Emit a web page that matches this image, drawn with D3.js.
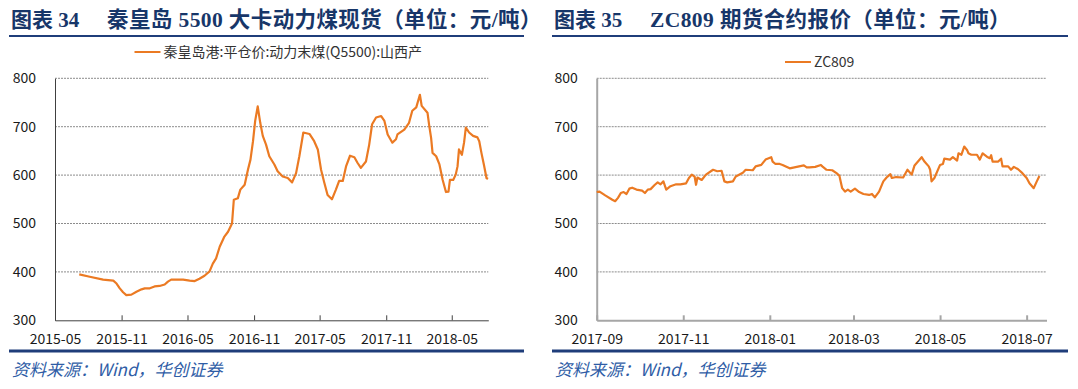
<!DOCTYPE html>
<html>
<head>
<meta charset="utf-8">
<script src="https://cdn.jsdelivr.net/npm/d3@7"></script>
<style>
  body { margin: 0; background: #fff; }
  svg { display: block; }
  .tick text { font-family: "Noto Sans CJK SC", "Liberation Sans", sans-serif; }
</style>
</head>
<body>
<div id="chart"></div>
<script>
// 秦皇岛 5500 大卡动力煤现货
const qhdDates = ["2015-07-07","2015-08-05","2015-09-11","2015-10-09","2015-10-18","2015-10-27","2015-11-05","2015-11-14","2015-11-28","2015-12-12",
  "2015-12-26","2016-01-04","2016-01-18","2016-01-31","2016-02-14","2016-02-28","2016-03-08","2016-03-17","2016-04-19","2016-05-07",
  "2016-05-21","2016-06-03","2016-06-17","2016-07-01","2016-07-10","2016-07-19","2016-07-29","2016-08-11","2016-08-21","2016-09-01",
  "2016-09-06","2016-09-17","2016-09-24","2016-10-06","2016-10-15","2016-10-22","2016-10-29","2016-11-04","2016-11-11","2016-11-18",
  "2016-11-25","2016-12-04","2016-12-13","2016-12-27","2017-01-05","2017-01-19","2017-02-02","2017-02-14","2017-02-25","2017-03-06",
  "2017-03-17","2017-04-03","2017-04-16","2017-04-26","2017-05-05","2017-05-14","2017-05-23","2017-06-04","2017-06-15","2017-06-24",
  "2017-07-04","2017-07-13","2017-07-24","2017-08-05","2017-08-14","2017-08-23","2017-09-06","2017-09-15","2017-09-23","2017-10-04",
  "2017-10-18","2017-10-27","2017-11-05","2017-11-18","2017-11-28","2017-12-02","2017-12-21","2018-01-03","2018-01-12","2018-01-23",
  "2018-02-02","2018-02-07","2018-02-23","2018-02-28","2018-03-05","2018-03-09","2018-03-19","2018-03-28","2018-04-06","2018-04-15",
  "2018-04-22","2018-04-26","2018-05-05","2018-05-12","2018-05-17","2018-05-21","2018-05-29","2018-06-04","2018-06-09","2018-06-18",
  "2018-06-29","2018-07-11","2018-07-16","2018-07-22","2018-07-29","2018-08-05","2018-08-09"];
const qhdPrice = [395,390,384,382,376,366,358,352,353,359,
  364,366,366,370,371,374,380,384,384,382,
  381,386,392,401,417,428,452,473,483,500,
  549,552,570,580,611,632,670,712,742,708,
  681,663,639,622,608,597,594,585,604,639,
  688,685,670,653,611,584,559,550,570,588,
  588,618,640,637,625,615,628,663,705,719,
  722,712,684,667,674,684,694,708,733,740,
  766,743,729,701,677,646,639,622,590,565,
  566,590,590,601,618,653,642,667,698,688,
  681,678,670,646,621,594,592];

// ZC809 期货合约
const zcDates = ["2017-09-01","2017-09-03","2017-09-07","2017-09-12","2017-09-14","2017-09-16","2017-09-18","2017-09-20","2017-09-22","2017-09-24",
  "2017-09-26","2017-09-29","2017-10-03","2017-10-05","2017-10-07","2017-10-09","2017-10-12","2017-10-14","2017-10-16","2017-10-18",
  "2017-10-20","2017-10-23","2017-10-27","2017-10-30","2017-11-03","2017-11-05","2017-11-07","2017-11-09","2017-11-10","2017-11-11",
  "2017-11-14","2017-11-17","2017-11-22","2017-11-25","2017-11-28","2017-11-30","2017-12-02","2017-12-06","2017-12-08","2017-12-13",
  "2017-12-15","2017-12-20","2017-12-22","2017-12-26","2017-12-29","2018-01-02","2018-01-03","2018-01-05","2018-01-08","2018-01-10",
  "2018-01-15","2018-01-20","2018-01-25","2018-01-27","2018-01-29","2018-02-02","2018-02-06","2018-02-07","2018-02-10","2018-02-14",
  "2018-02-17","2018-02-19","2018-02-21","2018-02-23","2018-02-25","2018-02-27","2018-03-02","2018-03-05","2018-03-08","2018-03-12",
  "2018-03-14","2018-03-16","2018-03-19","2018-03-22","2018-03-24","2018-03-25","2018-03-27","2018-03-28","2018-03-31","2018-04-05",
  "2018-04-08","2018-04-11","2018-04-13","2018-04-18","2018-04-20","2018-04-23","2018-04-24","2018-04-25","2018-04-27","2018-05-01",
  "2018-05-03","2018-05-04","2018-05-08","2018-05-10","2018-05-13","2018-05-14","2018-05-16","2018-05-18","2018-05-20","2018-05-21",
  "2018-05-23","2018-05-27","2018-05-29","2018-05-31","2018-06-03","2018-06-05","2018-06-06","2018-06-07","2018-06-11","2018-06-13",
  "2018-06-14","2018-06-18","2018-06-20","2018-06-22","2018-06-25","2018-06-28","2018-07-01","2018-07-03","2018-07-06","2018-07-08",
  "2018-07-10"];
const zcPrice = [565,566,558,549,546,553,563,565,561,572,
  574,570,568,563,570,571,580,585,581,587,
  570,577,581,581,583,594,601,597,580,595,
  590,601,611,608,609,587,585,587,597,605,
  611,610,618,621,632,637,628,623,623,621,
  614,617,620,616,616,617,621,618,611,610,
  604,599,573,566,570,566,572,565,561,559,
  561,554,566,587,594,597,602,594,596,595,
  611,601,620,637,628,618,611,587,594,621,
  623,634,632,637,630,645,642,659,652,645,
  642,642,632,645,638,635,641,628,628,634,
  618,618,611,617,612,604,594,583,573,586,
  598];

const yTicks = [300, 400, 500, 600, 700, 800];
const qhdTicks = ["2015-05","2015-11","2016-05","2016-11","2017-05","2017-11","2018-05"];
const zcTicks = ["2017-09","2017-11","2018-01","2018-03","2018-05","2018-07"];

const W = 1078, H = 389;
const navy = "#1f3d7a";
const orange = "#eb7a23";
const parseDay = d3.timeParse("%Y-%m-%d");
const parseMonth = d3.timeParse("%Y-%m");

const svg = d3.select("#chart")
  .append("svg")
  .attr("width", W)
  .attr("height", H);

function drawPanel(p) {
  const g = svg.append("g");

  // title + rules
  g.append("text")
    .attr("x", p.left)
    .attr("y", 27)
    .attr("fill", "#173669")
    .style("font-family", "'Liberation Serif', 'Noto Sans CJK SC', serif")
    .style("font-weight", "bold")
    .style("font-size", "21px")
    .text(p.num);
  g.append("text")
    .attr("x", p.left + 96)
    .attr("y", 27)
    .attr("fill", "#173669")
    .style("font-family", "'Liberation Serif', 'Noto Sans CJK SC', serif")
    .style("font-weight", "bold")
    .style("font-size", "21.5px")
    .style("letter-spacing", "0.4px")
    .text(p.title);

  g.append("line")
    .attr("x1", p.left - 2).attr("x2", p.right)
    .attr("y1", 36).attr("y2", 36)
    .attr("stroke", navy).attr("stroke-width", 2);
  g.append("line")
    .attr("x1", p.left - 2).attr("x2", p.right)
    .attr("y1", 351).attr("y2", 351)
    .attr("stroke", navy).attr("stroke-width", 3);

  // source
  g.append("text")
    .attr("x", p.left + 1)
    .attr("y", 376)
    .attr("fill", "#2f5da6")
    .style("font-family", "'Noto Sans CJK SC', sans-serif")
    .style("font-style", "italic")
    .style("font-size", "17px")
    .text("资料来源：Wind，华创证券");

  // scales
  const x = d3.scaleTime()
    .domain(p.domain.map(parseDay))
    .range([p.x0, p.x1]);
  const y = d3.scaleLinear()
    .domain([300, 800])
    .range([320.3, 78.3]);

  // gridlines
  g.selectAll(".grid")
    .data(yTicks.slice(1))
    .enter().append("line")
    .attr("class", "grid")
    .attr("x1", p.x0).attr("x2", p.x1)
    .attr("y1", d => y(d)).attr("y2", d => y(d))
    .attr("stroke", "#6e6e6e")
    .attr("stroke-width", 0.8)
    .attr("stroke-dasharray", "2,1");

  // y axis
  const yAxis = d3.axisLeft(y).tickValues(yTicks).tickSize(0).tickPadding(p.yPad);
  const ya = g.append("g")
    .attr("transform", `translate(${p.x0},0)`)
    .call(yAxis);
  ya.select(".domain").attr("stroke", p.axisColor).attr("stroke-width", p.axisWidth);
  ya.selectAll("text").style("font-size", "14px").attr("fill", "#1a1a1a");

  // x axis, ticks pointing up into the plot
  const xAxis = d3.axisBottom(x)
    .tickValues(p.ticks.map(parseMonth))
    .tickFormat(d3.timeFormat("%Y-%m"))
    .tickSizeInner(-5).tickSizeOuter(0).tickPadding(14);
  const xa = g.append("g")
    .attr("transform", `translate(0,${y(300)})`)
    .call(xAxis);
  xa.select(".domain").attr("stroke", p.axisColor).attr("stroke-width", p.axisWidth);
  xa.selectAll(".tick line").attr("stroke", p.axisColor).attr("stroke-width", p.axisWidth);
  xa.selectAll("text").style("font-size", "14px").attr("fill", "#1a1a1a");

  // series
  const data = p.dates.map((d, i) => ({ x: parseDay(d), y: p.values[i] }));
  const line = d3.line()
    .x(d => x(d.x))
    .y(d => y(d.y));
  g.append("path")
    .datum(data)
    .attr("d", line)
    .attr("fill", "none")
    .attr("stroke", orange)
    .attr("stroke-width", 2.2)
    .attr("stroke-linejoin", "round");

  // legend
  g.append("line")
    .attr("x1", p.legX).attr("x2", p.legX + 26)
    .attr("y1", p.legY).attr("y2", p.legY)
    .attr("stroke", orange).attr("stroke-width", 2);
  g.append("text")
    .attr("x", p.legX + 29)
    .attr("y", p.legY + 5)
    .attr("fill", "#333")
    .style("font-family", "'Noto Sans CJK SC', sans-serif")
    .style("font-size", "14px")
    .text(p.legend);
}

drawPanel({
  num: "图表 34", title: "秦皇岛 5500 大卡动力煤现货（单位：元/吨）",
  left: 11, right: 524,
  x0: 55, x1: 488.3, domain: ["2015-05-01", "2018-08-10"],
  ticks: qhdTicks, dates: qhdDates, values: qhdPrice,
  axisColor: "#404040", axisWidth: 1, yPad: 19,
  legX: 134.5, legY: 52, legend: "秦皇岛港:平仓价:动力末煤(Q5500):山西产"
});

drawPanel({
  num: "图表 35", title: "ZC809 期货合约报价（单位：元/吨）",
  left: 554, right: 1068,
  x0: 596.7, x1: 1046.5, domain: ["2017-09-01", "2018-07-15"],
  ticks: zcTicks, dates: zcDates, values: zcPrice,
  axisColor: "#a6a6a6", axisWidth: 2, yPad: 19,
  legX: 785, legY: 62, legend: "ZC809"
});
</script>
</body>
</html>
